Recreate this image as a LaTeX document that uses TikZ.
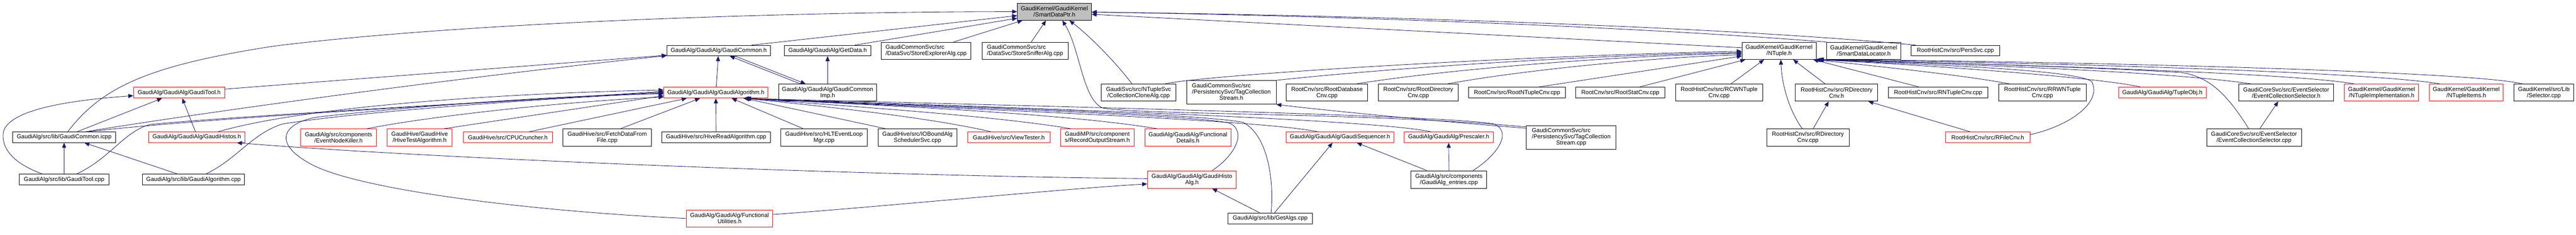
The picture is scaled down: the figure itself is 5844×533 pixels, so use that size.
\documentclass[tikz,border=0pt]{standalone}
\usepackage{fontspec}
\setmainfont{Liberation Sans}
\usetikzlibrary{arrows.meta,calc}
\definecolor{edgec}{HTML}{191970}
\definecolor{rootfill}{HTML}{BFBFBF}
\definecolor{boxred}{HTML}{FF0000}
\begin{document}
\begin{tikzpicture}[x=0.75pt,y=-0.75pt,
  tbox/.style={draw=black, line width=0.75pt, inner sep=0pt, font=\fontsize{10}{10.5}\selectfont, fill=white},
  kbox/.style={tbox, align=center},
  rbox/.style={tbox, align=center, draw=boxred},
  sz/.style 2 args={minimum width=#1*0.75pt, minimum height=#2*0.75pt},
  dep/.style={draw=edgec, line width=0.75pt, -{Triangle[length=8.5pt,width=7pt]}}]
\useasboundingbox (0,0) rectangle (5844,533);
% ---------- row 1
\node[kbox, fill=rootfill, sz={168}{39}] (root) at (2392,26.5) {GaudiKernel/GaudiKernel\\/SmartDataPtr.h};
\node[kbox, sz={235}{24}] (gch) at (1630.5,115) {GaudiAlg/GaudiAlg/GaudiCommon.h};
\node[kbox, sz={197}{24}] (getdata) at (1877.5,115) {GaudiAlg/GaudiAlg/GetData.h};
\node[kbox, align=left, sz={204}{39}] (storeexp) at (2101,115.5) {GaudiCommonSvc/src\\/DataSvc/StoreExplorerAlg.cpp};
\node[kbox, align=left, sz={195}{39}] (storesniff) at (2325.5,115.5) {GaudiCommonSvc/src\\/DataSvc/StoreSnifferAlg.cpp};
\node[kbox, sz={168}{39}] (ntuple) at (4036,115.5) {GaudiKernel/GaudiKernel\\/NTuple.h};
\node[kbox, sz={168}{39}] (sdloc) at (4228,115.5) {GaudiKernel/GaudiKernel\\/SmartDataLocator.h};
\node[kbox, sz={200}{24}] (perssvc) at (4436,115) {RootHistCnv/src/PersSvc.cpp};
% ---------- row 2
\node[rbox, sz={207}{25}] (gtoolh) at (406.5,210.5) {GaudiAlg/GaudiAlg/GaudiTool.h};
\node[rbox, sz={236}{25}] (galgh) at (1624,210.5) {GaudiAlg/GaudiAlg/GaudiAlgorithm.h};
\node[kbox, sz={223}{39}] (gcimp) at (1877.5,210.5) {GaudiAlg/GaudiAlg/GaudiCommon\\Imp.h};
\node[kbox, sz={170}{39}] (collclone) at (2583,210.5) {GaudiSvc/src/NTupleSvc\\/CollectionCloneAlg.cpp};
\node[tbox, sz={203}{54}] (tagcsh) at (2793.5,210) {\begin{tabular}{@{}l@{}}GaudiCommonSvc/src\\/PersistencySvc/TagCollection\\\multicolumn{1}{@{}c@{}}{Stream.h}\end{tabular}};
\node[kbox, sz={185}{39}] (rootdb) at (3010.5,210.5) {RootCnv/src/RootDatabase\\Cnv.cpp};
\node[kbox, sz={181}{39}] (rootdir) at (3217.5,210.5) {RootCnv/src/RootDirectory\\Cnv.cpp};
\node[kbox, sz={219}{25}] (rootnt) at (3441.5,210.5) {RootCnv/src/RootNTupleCnv.cpp};
\node[kbox, sz={202}{25}] (rootstat) at (3676,210.5) {RootCnv/src/RootStatCnv.cpp};
\node[kbox, sz={198}{39}] (rcwnt) at (3900,210.5) {RootHistCnv/src/RCWNTuple\\Cnv.cpp};
\node[kbox, sz={187}{39}] (rdirh) at (4166.5,210.5) {RootHistCnv/src/RDirectory\\Cnv.h};
\node[kbox, sz={226}{25}] (rntc) at (4397,210.5) {RootHistCnv/src/RNTupleCnv.cpp};
\node[kbox, sz={199}{39}] (rrwnt) at (4633.5,210.5) {RootHistCnv/src/RRWNTuple\\Cnv.cpp};
\node[rbox, sz={199}{25}] (tupleobj) at (4905.5,210.5) {GaudiAlg/GaudiAlg/TupleObj.h};
\node[kbox, sz={215}{39}] (ecselh) at (5186.5,210.5) {GaudiCoreSvc/src/EventSelector\\/EventCollectionSelector.h};
\node[rbox, sz={168}{39}] (ntimpl) at (5403,210.5) {GaudiKernel/GaudiKernel\\/NTupleImplementation.h};
\node[rbox, sz={168}{39}] (ntitems) at (5595,210.5) {GaudiKernel/GaudiKernel\\/NTupleItems.h};
\node[kbox, sz={136}{39}] (selector) at (5771,210.5) {GaudiKernel/src/Lib\\/Selector.cpp};
% ---------- row 3
\node[kbox, sz={233}{24}] (gcicpp) at (145.5,312) {GaudiAlg/src/lib/GaudiCommon.icpp};
\node[rbox, sz={219}{24}] (ghistosh) at (446.5,312) {GaudiAlg/GaudiAlg/GaudiHistos.h};
\node[rbox, sz={172}{39}] (evnk) at (768,312.5) {GaudiAlg/src/components\\/EventNodeKiller.h};
\node[rbox, sz={148}{39}] (hivetest) at (952,312.5) {GaudiHive/GaudiHive\\/HiveTestAlgorithm.h};
\node[rbox, sz={202}{24}] (cpucr) at (1152,312) {GaudiHive/src/CPUCruncher.h};
\node[kbox, sz={201}{39}] (fetch) at (1377.5,312.5) {GaudiHive/src/FetchDataFrom\\File.cpp};
\node[kbox, sz={247}{24}] (hiveread) at (1624.5,312) {GaudiHive/src/HiveReadAlgorithm.cpp};
\node[kbox, sz={197}{39}] (hltevt) at (1869.5,312.5) {GaudiHive/src/HLTEventLoop\\Mgr.cpp};
\node[kbox, sz={179}{39}] (iobound) at (2081.5,312.5) {GaudiHive/src/IOBoundAlg\\SchedulerSvc.cpp};
\node[rbox, sz={187}{24}] (viewtest) at (2288.5,312) {GaudiHive/src/ViewTester.h};
\node[rbox, sz={167}{39}] (recout) at (2489.5,312.5) {GaudiMP/src/component\\s/RecordOutputStream.h};
\node[rbox, sz={196}{39}] (funcdet) at (2695,312.5) {GaudiAlg/GaudiAlg/Functional\\Details.h};
\node[rbox, sz={244}{24}] (gseq) at (3040,312) {GaudiAlg/GaudiAlg/GaudiSequencer.h};
\node[rbox, sz={203}{24}] (presc) at (3286.5,312) {GaudiAlg/GaudiAlg/Prescaler.h};
\node[tbox, sz={203}{53}] (tagcscpp) at (3564.5,312.5) {\begin{tabular}{@{}l@{}}GaudiCommonSvc/src\\/PersistencySvc/TagCollection\\\multicolumn{1}{@{}c@{}}{Stream.cpp}\end{tabular}};
\node[kbox, sz={187}{39}] (rdircpp) at (4101.5,312.5) {RootHistCnv/src/RDirectory\\Cnv.cpp};
\node[rbox, sz={191}{24}] (rfilecnv) at (4509.5,312) {RootHistCnv/src/RFileCnv.h};
\node[kbox, sz={215}{39}] (ecselcpp) at (5113.5,312.5) {GaudiCoreSvc/src/EventSelector\\/EventCollectionSelector.cpp};
% ---------- row 4
\node[kbox, sz={203}{24}] (gtoolcpp) at (145.5,408) {GaudiAlg/src/lib/GaudiTool.cpp};
\node[kbox, sz={232}{24}] (galgcpp) at (439,408) {GaudiAlg/src/lib/GaudiAlgorithm.cpp};
\node[rbox, sz={202}{40}] (ghistoalg) at (2704,408) {GaudiAlg/GaudiAlg/GaudiHisto\\Alg.h};
\node[kbox, sz={172}{40}] (entries) at (3287,408) {GaudiAlg/src/components\\/GaudiAlg\_entries.cpp};
% ---------- row 5
\node[rbox, sz={196}{39}] (funcutil) at (1655,496.5) {GaudiAlg/GaudiAlg/Functional\\Utilities.h};
\node[kbox, sz={191}{25}] (getalgs) at (2881.5,496.5) {GaudiAlg/src/lib/GetAlgs.cpp};

% ================= edges into SmartDataPtr.h
\draw[dep] ($(gcicpp.north)+(8,0)$) .. controls (230,200) and (330,150) .. (620,105) .. controls (1100,45) and (1900,26) .. (root.west);
\draw[dep] ($(gch.north)+(75,0)$) -- ($(root.west)+(0,9)$);
\draw[dep] ($(getdata.north)+(62,0)$) -- ($(root.west)+(0,15)$);
\draw[dep] ($(storeexp.north)+(62,0)$) -- ($(root.south west)+(12,0)$);
\draw[dep] ($(storesniff.north)+(14,0)$) -- ($(root.south)+(-19,0)$);
\draw[dep] ($(tagcscpp.north west)+(0,3)$) .. controls (3100,255) and (2580,262) .. (2500,245) .. controls (2455,222) and (2450,110) .. ($(root.south)+(18,0)$);
\draw[dep] ($(collclone.north)+(-15,0)$) .. controls (2530,140) and (2470,80) .. ($(root.south)+(34,0)$);
\draw[dep] ($(ntuple.west)+(0,-7)$) -- ($(root.east)+(0,6)$);
\draw[dep] (sdloc.north west) .. controls (3700,60) and (3000,35) .. ($(root.east)+(0,1)$);
\draw[dep] ($(perssvc.north west)+(10,0)$) .. controls (3900,60) and (3100,35) .. ($(root.east)+(0,1)$);
% ================= GaudiCommon.h, GetData.h, GaudiCommonImp.h
\draw[dep] ($(gtoolh.east)+(0,-8)$) -- ($(gch.south west)+(0,-2)$);
\draw[dep] ($(gcicpp.north)+(48,0)$) .. controls (400,265) and (1000,180) .. ($(gch.south west)+(0,-1)$);
\draw[dep] ($(galgh.north)+(1,0)$) -- ($(gch.south)+(-1,0)$);
\draw[dep] ($(gcimp.north)+(-62,0)$) -- ($(gch.south)+(25,0)$);
\draw[dep] ($(gch.south)+(37,0)$) -- ($(gcimp.north)+(-50,0)$);
\draw[dep] (gcimp.north) -- (getdata.south);
% ================= GaudiTool.h, GaudiCommon.icpp, GaudiHistos.h
\draw[dep] ($(gtoolcpp.north west)+(53,0)$) .. controls (40,375) and (5,345) .. (7,305) .. controls (10,262) and (100,232) .. ($(gtoolh.west)+(0,7)$);
\draw[dep] ($(gcicpp.north)+(29,0)$) -- ($(gtoolh.south)+(-39,0)$);
\draw[dep] ($(ghistosh.north)+(-3,0)$) -- ($(gtoolh.south)+(7,0)$);
\draw[dep] (gtoolcpp.north) -- (gcicpp.south);
\draw[dep] ($(galgcpp.north)+(-36,0)$) -- ($(gcicpp.south)+(46,0)$);
\draw[dep] ($(ghistoalg.west)+(0,-2)$) .. controls (2000,400) and (1000,362) .. ($(ghistosh.south east)+(-19,0)$);
% ================= GaudiAlgorithm.h from the left
\draw[dep] ($(gcicpp.north)+(52,0)$) .. controls (500,265) and (1100,235) .. ($(galgh.west)+(0,-3)$);
\draw[dep] ($(gtoolcpp.north)+(28,0)$) .. controls (250,360) and (280,300) .. (340,283) .. controls (520,265) and (1100,232) .. ($(galgh.west)+(0,-1)$);
\draw[dep] ($(galgcpp.north)+(28,0)$) .. controls (540,360) and (570,305) .. (640,282) .. controls (780,258) and (1200,225) .. ($(galgh.west)+(0,1)$);
\draw[dep] ($(ghistosh.north)+(48,0)$) .. controls (700,240) and (1150,212) .. ($(galgh.west)+(0,-6)$);
\draw[dep] ($(evnk.north)+(64,0)$) .. controls (1000,260) and (1300,230) .. ($(galgh.west)+(0,10)$);
\draw[dep] (funcutil.west) .. controls (1200,480) and (800,430) .. (700,370) .. controls (620,325) and (640,280) .. (720,266) .. controls (950,240) and (1300,215) .. ($(galgh.west)+(0,3)$);
\draw[dep] ($(hivetest.north)+(55,0)$) -- ($(galgh.west)+(0,7)$);
% ================= GaudiAlgorithm.h from below
\draw[dep] ($(cpucr.north)+(48,0)$) -- ($(galgh.south)+(-66,0)$);
\draw[dep] ($(fetch.north)+(30,0)$) -- ($(galgh.south)+(-36,0)$);
\draw[dep] (hiveread.north) -- (galgh.south);
\draw[dep] ($(hltevt.north)+(-47,0)$) -- ($(galgh.south)+(36,0)$);
\draw[dep] ($(iobound.north)+(-72,0)$) -- ($(galgh.south east)+(-54,0)$);
\draw[dep] ($(viewtest.north)+(-40,0)$) .. controls (2100,265) and (1850,240) .. ($(galgh.south east)+(-52,0)$);
\draw[dep] ($(recout.north)+(-60,0)$) .. controls (2250,262) and (1900,240) .. ($(galgh.south east)+(-50,0)$);
\draw[dep] ($(funcdet.north)+(-70,0)$) .. controls (2400,255) and (1950,238) .. ($(galgh.south east)+(-50,0)$);
\draw[dep] ($(gseq.north)+(-50,0)$) .. controls (2850,270) and (2100,245) .. ($(galgh.south east)+(-52,0)$);
\draw[dep] ($(presc.north)+(-40,0)$) .. controls (3100,268) and (2200,242) .. ($(galgh.south east)+(-54,0)$);
\draw[dep] ($(ghistoalg.north)+(46,0)$) .. controls (2800,355) and (2830,300) .. (2790,280) .. controls (2700,258) and (2000,240) .. ($(galgh.south east)+(-56,0)$);
\draw[dep] ($(getalgs.north)+(2,0)$) .. controls (2890,420) and (2880,310) .. (2820,278) .. controls (2700,255) and (2000,238) .. ($(galgh.south east)+(-56,0)$);
\draw[dep] ($(entries.north)+(55,0)$) .. controls (3400,350) and (3430,300) .. (3390,282) .. controls (3300,262) and (2300,240) .. ($(galgh.south east)+(-56,0)$);
% ================= NTuple.h
\draw[dep] ($(collclone.north east)+(-25,0)$) .. controls (2720,172) and (3400,128) .. ($(ntuple.west)+(0,1)$);
\draw[dep] (tagcsh.north east) .. controls (3150,155) and (3600,125) .. ($(ntuple.west)+(0,4)$);
\draw[dep] ($(rootdb.north)+(67,0)$) .. controls (3300,155) and (3700,125) .. ($(ntuple.west)+(0,6)$);
\draw[dep] ($(rootdir.north)+(67,0)$) .. controls (3450,160) and (3750,130) .. ($(ntuple.west)+(0,9)$);
\draw[dep] ($(rootnt.north)+(50,0)$) -- ($(ntuple.west)+(0,12)$);
\draw[dep] ($(rootstat.north)+(44,0)$) -- ($(ntuple.south west)+(8,0)$);
\draw[dep] ($(rcwnt.north)+(27,0)$) -- ($(ntuple.south)+(-34,0)$);
\draw[dep] ($(rdircpp.north)+(-13,0)$) .. controls (4055,245) and (4042,185) .. ($(ntuple.south)+(4,0)$);
\draw[dep] ($(rdirh.north)+(-26,0)$) -- ($(ntuple.south)+(32,0)$);
\draw[dep] ($(rntc.north)+(-44,0)$) -- ($(ntuple.south east)+(-7,0)$);
\draw[dep] ($(rrwnt.north)+(-75,0)$) .. controls (4450,170) and (4250,150) .. ($(ntuple.south east)+(-3,0)$);
\draw[dep] ($(rfilecnv.east)+(0,-6)$) .. controls (4700,285) and (4770,230) .. (4745,185) .. controls (4700,155) and (4300,145) .. ($(ntuple.south east)+(-1,0)$);
\draw[dep] ($(tupleobj.north)+(-50,0)$) .. controls (4750,175) and (4400,150) .. ($(ntuple.south east)+(1,0)$);
\draw[dep] ($(ecselh.north)+(-80,0)$) .. controls (4900,160) and (4400,145) .. ($(ntuple.south east)+(2,0)$);
\draw[dep] ($(ecselcpp.north)+(-12,0)$) .. controls (5050,210) and (5010,175) .. (4950,165) .. controls (4700,150) and (4300,140) .. ($(ntuple.south east)+(3,0)$);
\draw[dep] ($(ntimpl.north)+(-63,0)$) .. controls (5200,165) and (4500,145) .. ($(ntuple.south east)+(4,0)$);
\draw[dep] ($(ntitems.north)+(-60,0)$) .. controls (5350,160) and (4500,140) .. ($(ntuple.south east)+(5,0)$);
\draw[dep] ($(selector.north)+(-49,0)$) .. controls (5600,160) and (4600,138) .. ($(ntuple.south east)+(6,0)$);
% ================= others
\draw[dep] ($(tagcscpp.north west)+(0,6)$) .. controls (3250,275) and (3000,250) .. (tagcsh.south east);
\draw[dep] ($(rdircpp.north)+(12,0)$) -- ($(rdirh.south)+(-18,0)$);
\draw[dep] ($(rfilecnv.north)+(-40,0)$) -- ($(rdirh.south east)+(-22,0)$);
\draw[dep] ($(ecselcpp.north)+(13,0)$) -- ($(ecselh.south)+(-18,0)$);
\draw[dep] ($(getalgs.north)+(-24,0)$) -- ($(ghistoalg.south)+(46,0)$);
\draw[dep] ($(getalgs.north)+(10,0)$) -- ($(gseq.south)+(-17,0)$);
\draw[dep] ($(funcutil.east)+(0,-9)$) .. controls (2000,470) and (2400,430) .. ($(ghistoalg.west)+(0,10)$);
\draw[dep] ($(entries.north)+(-50,0)$) -- ($(gseq.south)+(38,0)$);
\draw[dep] (entries.north) -- (presc.south);
\end{tikzpicture}
\end{document}
